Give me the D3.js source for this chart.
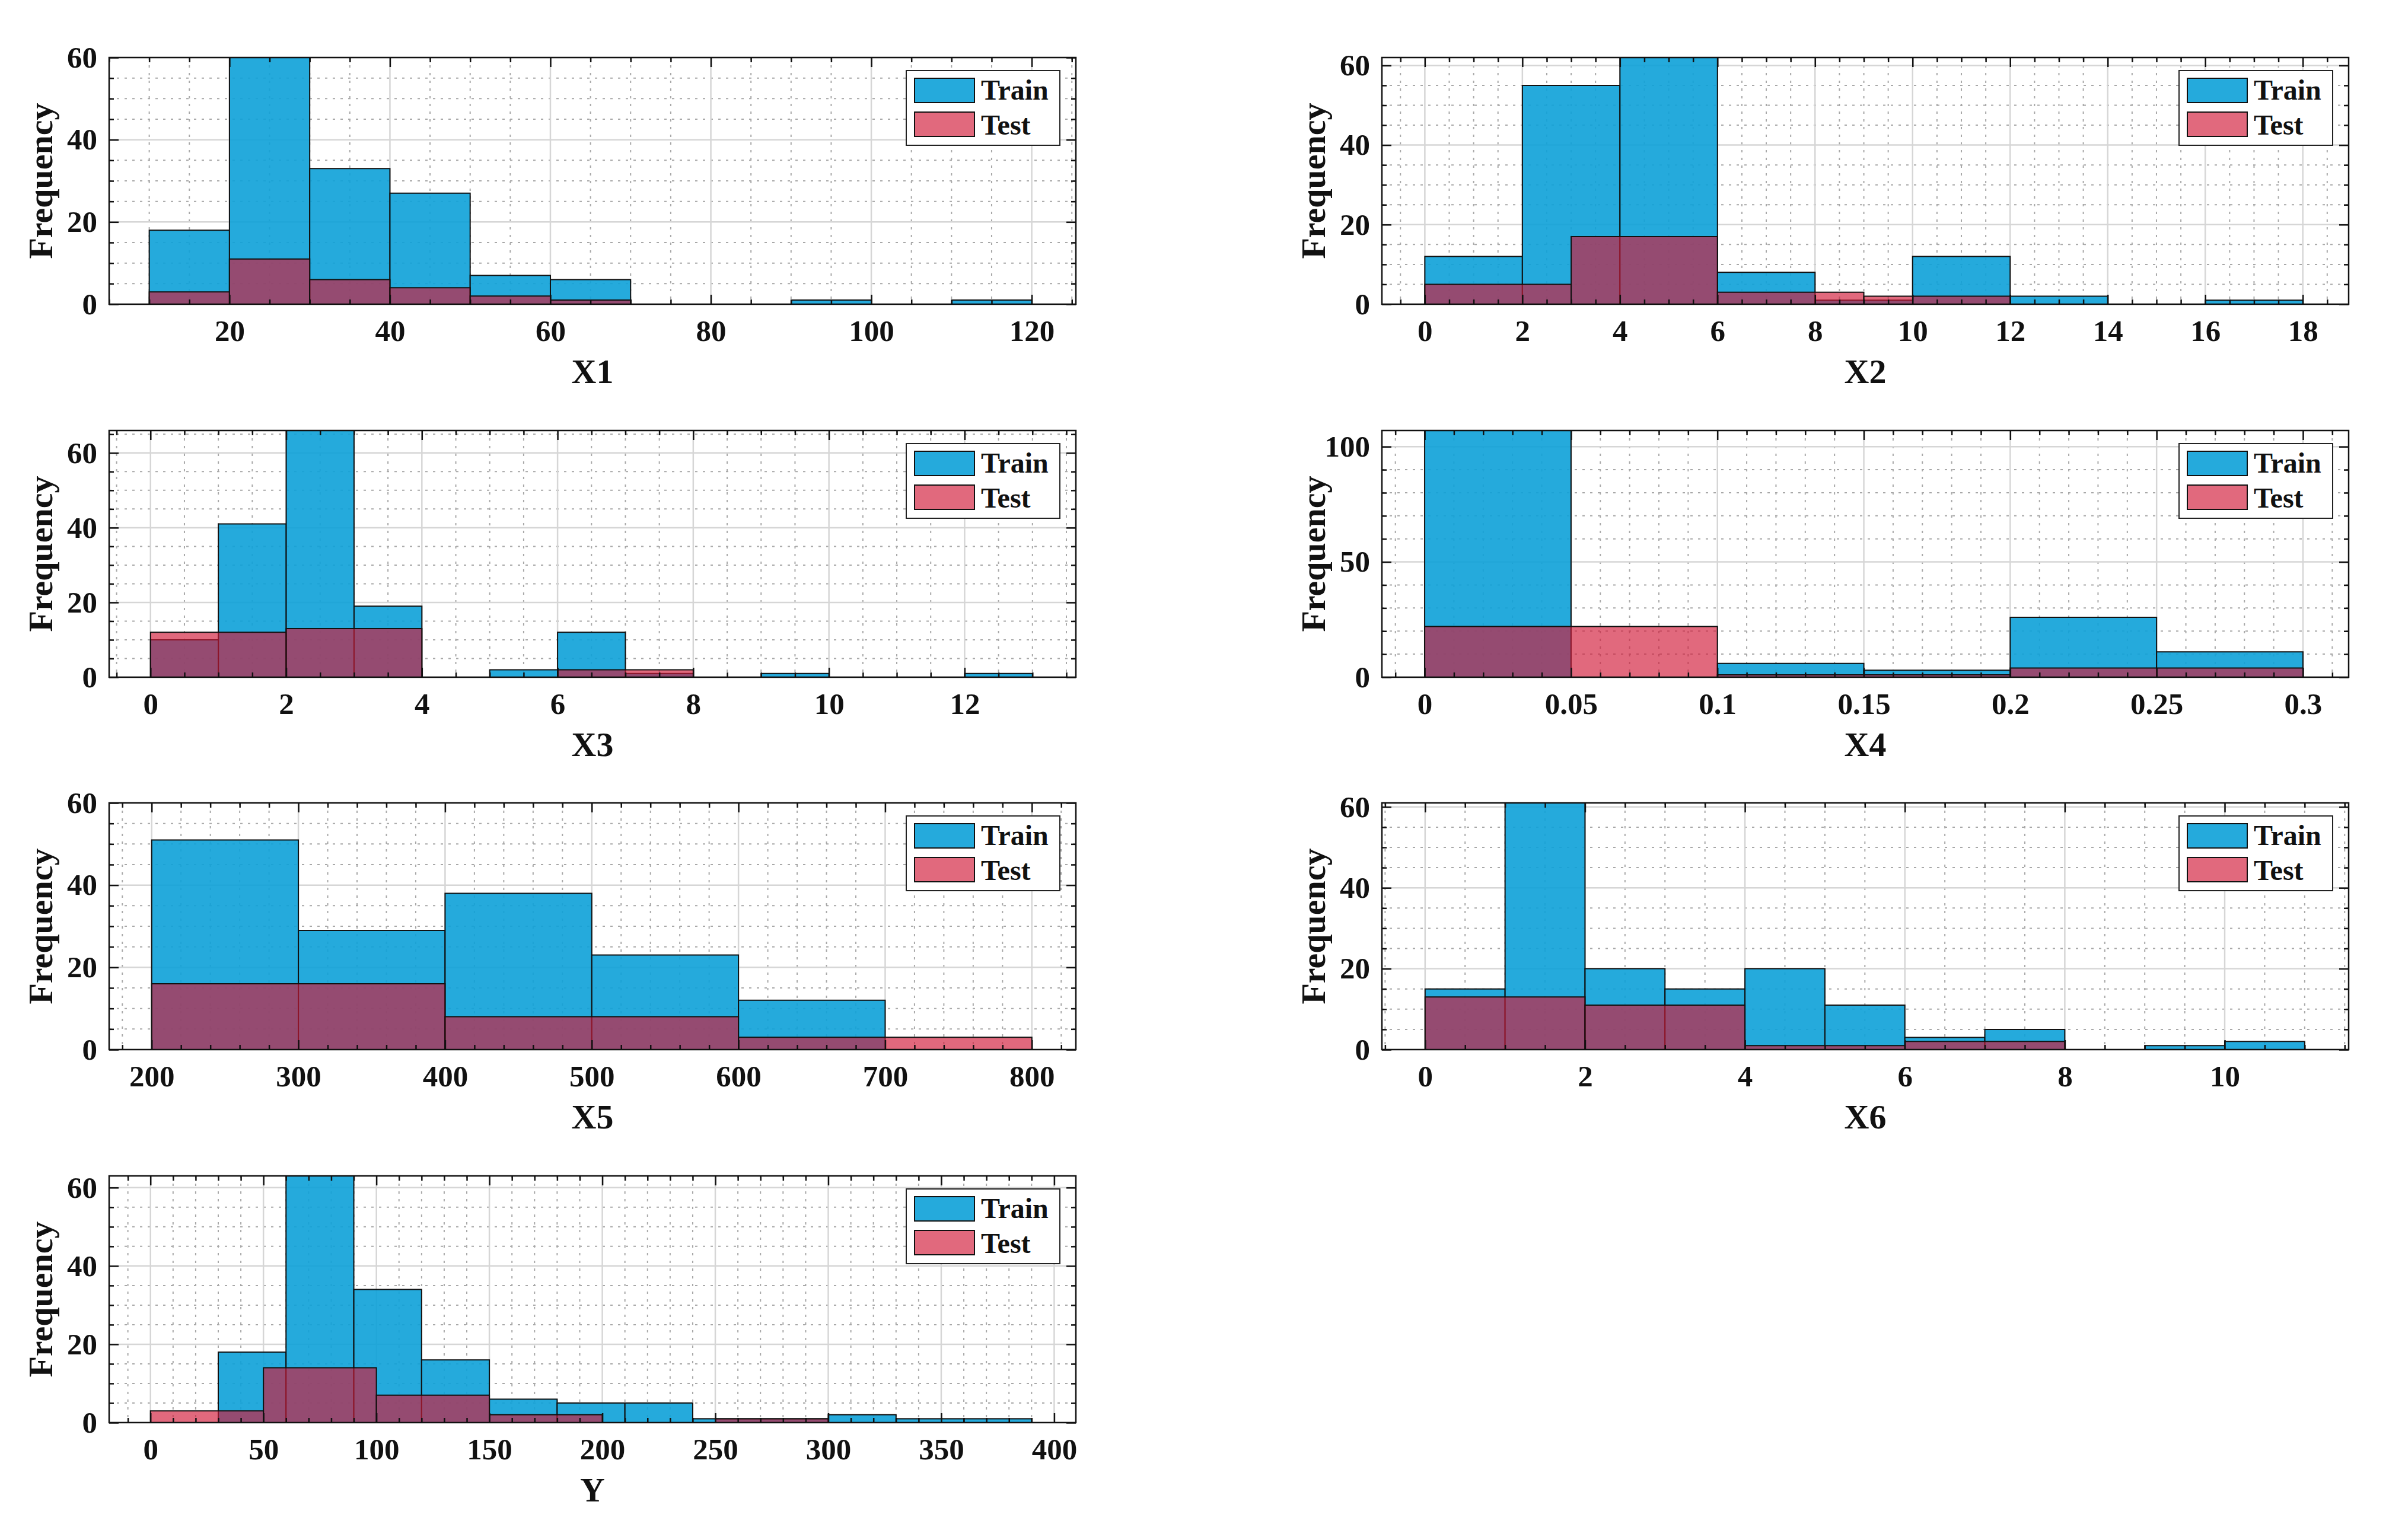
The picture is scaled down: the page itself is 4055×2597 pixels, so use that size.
<!DOCTYPE html>
<html>
<head>
<meta charset="utf-8">
<script src="https://cdn.jsdelivr.net/npm/d3@7/dist/d3.min.js"></script>
<style>
    body { margin: 0; background: #fff; }
</style>
</head>
<body>
<div id="chart"></div>
<script>
/* ===== DATA (bin edges + counts) ===== */
const variables = ["X1", "X2", "X3", "X4", "X5", "X6", "Y"];

const x1TrainEdges = [10, 20, 30, 40, 50, 60, 70, 80, 90, 100, 110, 120];
const x1Train = [18, 60, 33, 27, 7, 6, 0, 0, 1, 0, 1];
const x1TestEdges = [10, 20, 30, 40, 50, 60, 70, 80, 90, 100, 110, 120];
const x1Test = [3, 11, 6, 4, 2, 1, 0, 0, 0, 0, 0];

const x2TrainEdges = [0, 2, 4, 6, 8, 10, 12, 14, 16, 18];
const x2Train = [12, 55, 62, 8, 1, 12, 2, 0, 1];
const x2TestEdges = [0, 3, 6, 9, 12];
const x2Test = [5, 17, 3, 2];

const x3TrainEdges = [0, 1, 2, 3, 4, 5, 6, 7, 8, 9, 10, 11, 12, 13];
const x3Train = [10, 41, 66, 19, 0, 2, 12, 1, 0, 1, 0, 0, 1];
const x3TestEdges = [0, 2, 4, 6, 8];
const x3Test = [12, 13, 0, 2];

const x4TrainEdges = [0, 0.05, 0.1, 0.15, 0.2, 0.25, 0.3];
const x4Train = [107, 0, 6, 3, 26, 11];
const x4TestEdges = [0, 0.1, 0.2, 0.3];
const x4Test = [22, 1, 4];

const x5TrainEdges = [200, 300, 400, 500, 600, 700];
const x5Train = [51, 29, 38, 23, 12];
const x5TestEdges = [200, 400, 600, 800];
const x5Test = [16, 8, 3];

const x6TrainEdges = [0, 1, 2, 3, 4, 5, 6, 7, 8, 9, 10, 11];
const x6Train = [15, 61, 20, 15, 20, 11, 3, 5, 0, 1, 2];
const x6TestEdges = [0, 2, 4, 6, 8];
const x6Test = [13, 11, 1, 2];

const yTrainEdges = [30, 60, 90, 120, 150, 180, 210, 240, 270, 300, 330, 360, 390];
const yTrain = [18, 63, 34, 16, 6, 5, 5, 1, 1, 2, 1, 1];
const yTestEdges = [0, 50, 100, 150, 200, 250, 300];
const yTest = [3, 14, 7, 2, 0, 1];

/* axis limits and tick labels */
const xLimits = [[5, 125.5], [-0.88, 18.94], [-0.61, 13.64], [-0.0146, 0.3156], [171, 830], [-0.54, 11.55], [-18.3, 409.6]];
const yLimits = [60, 62, 66, 107, 60, 61, 63];
const xTickValues = [
    [20, 40, 60, 80, 100, 120],
    [0, 2, 4, 6, 8, 10, 12, 14, 16, 18],
    [0, 2, 4, 6, 8, 10, 12],
    [0, 0.05, 0.1, 0.15, 0.2, 0.25, 0.3],
    [200, 300, 400, 500, 600, 700, 800],
    [0, 2, 4, 6, 8, 10],
    [0, 50, 100, 150, 200, 250, 300, 350, 400]
];
const xMinorSteps = [5, 0.5, 0.5, 0.01, 20, 0.5, 10];
const yTickValues = [
    [0, 20, 40, 60], [0, 20, 40, 60], [0, 20, 40, 60], [0, 50, 100],
    [0, 20, 40, 60], [0, 20, 40, 60], [0, 20, 40, 60]
];
const yMinorSteps = [5, 5, 5, 10, 5, 5, 5];
const seriesNames = ["Train", "Test"];

const trainEdges = [x1TrainEdges, x2TrainEdges, x3TrainEdges, x4TrainEdges, x5TrainEdges, x6TrainEdges, yTrainEdges];
const trainCounts = [x1Train, x2Train, x3Train, x4Train, x5Train, x6Train, yTrain];
const testEdges = [x1TestEdges, x2TestEdges, x3TestEdges, x4TestEdges, x5TestEdges, x6TestEdges, yTestEdges];
const testCounts = [x1Test, x2Test, x3Test, x4Test, x5Test, x6Test, yTest];

/* ===== LAYOUT ===== */
const width = 4055;
const height = 2597;
const W = 1630;
const H = 416;
const colLeft = [184, 2330];
const rowTop = [97, 726, 1354, 1983];

const FONT = "'Liberation Serif', 'Times New Roman', Times, serif";
const trainColor = "rgb(13,161,216)";
const testColor = "rgb(209,25,55)";

const svg = d3.select("#chart")
    .append("svg")
    .attr("width", width)
    .attr("height", height)
    .attr("viewBox", `0 0 ${width} ${height}`);

svg.append("rect").attr("width", width).attr("height", height).attr("fill", "#fff");

/* ===== HELPERS ===== */
function toBins(edges, counts) {
    return counts.map((c, i) => ({ x0: edges[i], x1: edges[i + 1], count: c }));
}

function minorValues(domain, step, majors) {
    const k0 = Math.ceil(domain[0] / step - 1e-9);
    const k1 = Math.floor(domain[1] / step + 1e-9);
    const out = [];
    for (let k = k0; k <= k1; k++) {
        const v = +(k * step).toFixed(6);
        if (!majors.some(m => Math.abs(m - v) < step * 1e-3)) out.push(v);
    }
    return out;
}

function styleText(sel, size) {
    sel.style("font-family", FONT)
        .style("font-weight", "bold")
        .style("font-size", size + "px")
        .style("fill", "#111");
}

const fmt = d3.format("~g");

/* ===== PANELS ===== */
variables.forEach((name, i) => {
    const left = colLeft[i % 2];
    const top = rowTop[Math.floor(i / 2)];
    const g = svg.append("g").attr("transform", `translate(${left},${top})`);

    const x = d3.scaleLinear().domain(xLimits[i]).range([0, W]);
    const y = d3.scaleLinear().domain([0, yLimits[i]]).range([H, 0]);

    const xMinor = minorValues(xLimits[i], xMinorSteps[i], xTickValues[i]);
    const yMinor = minorValues([0, yLimits[i]], yMinorSteps[i], yTickValues[i]);

    const clipId = `clip-${i}`;
    g.append("clipPath").attr("id", clipId)
        .append("rect").attr("width", W).attr("height", H);

    /* grid */
    const grid = g.append("g").attr("clip-path", `url(#${clipId})`);
    grid.selectAll(".mx").data(xMinor).enter().append("line")
        .attr("x1", d => x(d)).attr("x2", d => x(d))
        .attr("y1", 0).attr("y2", H)
        .attr("stroke", "#a8a8a8").attr("stroke-width", 2).attr("stroke-dasharray", "4,9");
    grid.selectAll(".my").data(yMinor).enter().append("line")
        .attr("x1", 0).attr("x2", W)
        .attr("y1", d => y(d)).attr("y2", d => y(d))
        .attr("stroke", "#a8a8a8").attr("stroke-width", 2).attr("stroke-dasharray", "4,9");
    grid.selectAll(".gx").data(xTickValues[i]).enter().append("line")
        .attr("x1", d => x(d)).attr("x2", d => x(d))
        .attr("y1", 0).attr("y2", H)
        .attr("stroke", "#d6d6d6").attr("stroke-width", 2.5);
    grid.selectAll(".gy").data(yTickValues[i]).enter().append("line")
        .attr("x1", 0).attr("x2", W)
        .attr("y1", d => y(d)).attr("y2", d => y(d))
        .attr("stroke", "#d6d6d6").attr("stroke-width", 2.5);

    /* bars */
    const bars = g.append("g").attr("clip-path", `url(#${clipId})`);
    const barPath = d => `M${x(d.x0)},${y(0)}V${y(d.count)}H${x(d.x1)}V${y(0)}Z`;

    bars.append("g").selectAll("path")
        .data(toBins(trainEdges[i], trainCounts[i]))
        .enter().append("path")
        .attr("d", barPath)
        .attr("fill", trainColor).attr("fill-opacity", 0.9)
        .attr("stroke", "#111").attr("stroke-width", 2);

    bars.append("g").selectAll("path")
        .data(toBins(testEdges[i], testCounts[i]))
        .enter().append("path")
        .attr("d", barPath)
        .attr("fill", testColor).attr("fill-opacity", 0.65)
        .attr("stroke", "#111").attr("stroke-width", 2);

    /* ticks */
    const tickStyle = sel => {
        sel.select(".domain").remove();
        sel.selectAll(".tick line").attr("stroke", "#111").attr("stroke-width", 2.5);
    };

    g.append("g").attr("transform", `translate(0,${H})`)
        .call(d3.axisBottom(x).tickValues(xTickValues[i]).tickSize(-16).tickPadding(26).tickFormat(fmt))
        .call(tickStyle)
        .selectAll("text").call(styleText, 51);
    g.append("g").attr("transform", `translate(0,${H})`)
        .call(d3.axisBottom(x).tickValues(xMinor).tickSize(-8).tickFormat(""))
        .call(tickStyle);
    g.append("g")
        .call(d3.axisTop(x).tickValues(xTickValues[i]).tickSize(-16).tickFormat(""))
        .call(tickStyle);
    g.append("g")
        .call(d3.axisTop(x).tickValues(xMinor).tickSize(-8).tickFormat(""))
        .call(tickStyle);

    g.append("g")
        .call(d3.axisLeft(y).tickValues(yTickValues[i]).tickSize(-16).tickPadding(20).tickFormat(fmt))
        .call(tickStyle)
        .selectAll("text").call(styleText, 51);
    g.append("g")
        .call(d3.axisLeft(y).tickValues(yMinor).tickSize(-8).tickFormat(""))
        .call(tickStyle);
    g.append("g").attr("transform", `translate(${W},0)`)
        .call(d3.axisRight(y).tickValues(yTickValues[i]).tickSize(-16).tickFormat(""))
        .call(tickStyle);
    g.append("g").attr("transform", `translate(${W},0)`)
        .call(d3.axisRight(y).tickValues(yMinor).tickSize(-8).tickFormat(""))
        .call(tickStyle);

    /* box */
    g.append("rect")
        .attr("width", W).attr("height", H)
        .attr("fill", "none").attr("stroke", "#111").attr("stroke-width", 2.5);

    /* legend */
    const lg = g.append("g").attr("transform", `translate(${W - 27 - 259},22)`);
    lg.append("rect").attr("width", 259).attr("height", 126)
        .attr("fill", "#fff").attr("stroke", "#222").attr("stroke-width", 2);
    seriesNames.forEach((s, k) => {
        lg.append("rect")
            .attr("x", 14).attr("y", 13 + k * 57)
            .attr("width", 101).attr("height", 41)
            .attr("fill", k === 0 ? trainColor : testColor)
            .attr("fill-opacity", k === 0 ? 0.9 : 0.65)
            .attr("stroke", "#111").attr("stroke-width", 2);
        lg.append("text")
            .attr("x", 126).attr("y", 49 + k * 59)
            .text(s)
            .call(styleText, 48);
    });

    /* labels */
    g.append("text")
        .attr("x", W / 2).attr("y", H + 133)
        .attr("text-anchor", "middle")
        .text(name)
        .call(styleText, 58);

    g.append("text")
        .attr("transform", `translate(-96,${H / 2}) rotate(-90)`)
        .attr("text-anchor", "middle")
        .text("Frequency")
        .call(styleText, 58);
});
</script>
</body>
</html>
